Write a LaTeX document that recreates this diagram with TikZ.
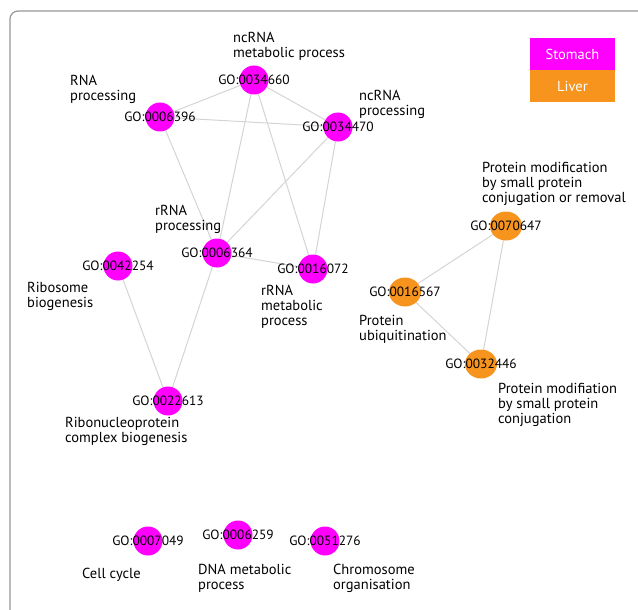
\documentclass[tikz,border=0pt]{standalone}
\usepackage{fontspec}
\setmainfont{PT Sans}
\usetikzlibrary{shapes.geometric,backgrounds}
\definecolor{stom}{RGB}{255,0,255}
\definecolor{liv}{RGB}{247,148,30}
\definecolor{edgegray}{RGB}{212,212,212}
\definecolor{framegray}{RGB}{150,150,150}
\begin{document}
\begin{tikzpicture}[x=1pt,y=-1pt,
  go/.style={circle,minimum size=29pt,inner sep=0pt,fill=stom},
  gol/.style={ellipse,minimum width=32pt,minimum height=29pt,inner sep=0pt,fill=liv},
  golbl/.style={font=\fontsize{13.4}{15}\selectfont,inner sep=0pt},
  txt/.style={font=\fontsize{14.5}{15}\selectfont,align=left,anchor=base west,inner sep=0pt},
  link/.style={draw=edgegray,line width=1pt},
  legbox/.style={minimum width=85pt,minimum height=32pt,inner sep=0pt,text=white,font=\fontsize{14.5}{15}\selectfont}]
\useasboundingbox (0,0) rectangle (638,610);
\draw[framegray,line width=1.2pt,rounded corners=8pt] (10,11) rectangle (660,640);

% magenta nodes
\node[go] (n34660) at (254,80) {};
\node[go] (n06396) at (160,117) {};
\node[go] (n34470) at (338,127) {};
\node[go] (n06364) at (217,253) {};
\node[go] (n16072) at (313,269) {};
\node[go] (n42254) at (118,266) {};
\node[go] (n22613) at (168,401) {};
\node[go] (n07049) at (148,541) {};
\node[go] (n06259) at (238,535) {};
\node[go] (n51276) at (325,541) {};
% orange nodes
\node[gol] (n70647) at (506,226) {};
\node[gol] (n16567) at (405,292) {};
\node[gol] (n32446) at (481,364) {};

% edges
\begin{scope}[on background layer]
\draw[link] (n34660) -- (n06396);
\draw[link] (n34660) -- (n34470);
\draw[link] (n06396) -- (n34470);
\draw[link] (n34660) -- (n06364);
\draw[link] (n34660) -- (n16072);
\draw[link] (n06396) -- (n06364);
\draw[link] (n34470) -- (n06364);
\draw[link] (n34470) -- (n16072);
\draw[link] (n06364) -- (n16072);
\draw[link] (n06364) -- (n22613);
\draw[link] (n42254) -- (n22613);
\draw[link] (n70647) -- (n16567);
\draw[link] (n70647) -- (n32446);
\draw[link] (n16567) -- (n32446);
\end{scope}

% GO ids
\node[golbl] (t34660) at (n34660) {GO:0034660};
\node[golbl] (t06396) at (n06396) {GO:0006396};
\node[golbl] (t34470) at (n34470) {GO:0034470};
\node[golbl] (t06364) at (n06364) {GO:0006364};
\node[golbl] (t16072) at (n16072) {GO:0016072};
\node[golbl] (t42254) at (n42254) {GO:0042254};
\node[golbl] (t22613) at (n22613) {GO:0022613};
\node[golbl] (t07049) at (n07049) {GO:0007049};
\node[golbl] (t06259) at (n06259) {GO:0006259};
\node[golbl] (t51276) at (n51276) {GO:0051276};
\node[golbl] (t70647) at (n70647) {GO:0070647};
\node[golbl] (t16567) at (n16567) {GO:0016567};
\node[golbl] (t32446) at (n32446) {GO:0032446};

% descriptions (anchor = baseline of last line)
\node[txt] (d34660) at (233,58) {ncRNA\\metabolic process};
\node[txt] (d06396) at (70,100) {RNA\\processing};
\node[txt] (d34470) at (359,116) {ncRNA\\processing};
\node[txt] (d06364) at (155,230) {rRNA\\processing};
\node[txt] (d42254) at (27,307) {Ribosome\\biogenesis};
\node[txt] (d16072) at (261,325) {rRNA\\metabolic\\process};
\node[txt] (d22613) at (65,442) {Ribonucleoprotein\\complex biogenesis};
\node[txt] (d70647) at (482,202) {Protein modification\\by small protein\\conjugation or removal};
\node[txt] (d16567) at (359,340) {Protein\\ubiquitination};
\node[txt] (d32446) at (498,423) {Protein modifiation\\by small protein\\conjugation};
\node[txt] (d07049) at (82,578) {Cell cycle};
\node[txt] (d06259) at (198,589) {DNA metabolic\\process};
\node[txt] (d51276) at (333,589) {Chromosome\\organisation};

% legend
\node[legbox,fill=stom] (legS) at (572.5,54) {Stomach};
\node[legbox,fill=liv] (legL) at (572.5,86) {Liver};
\end{tikzpicture}
\end{document}
